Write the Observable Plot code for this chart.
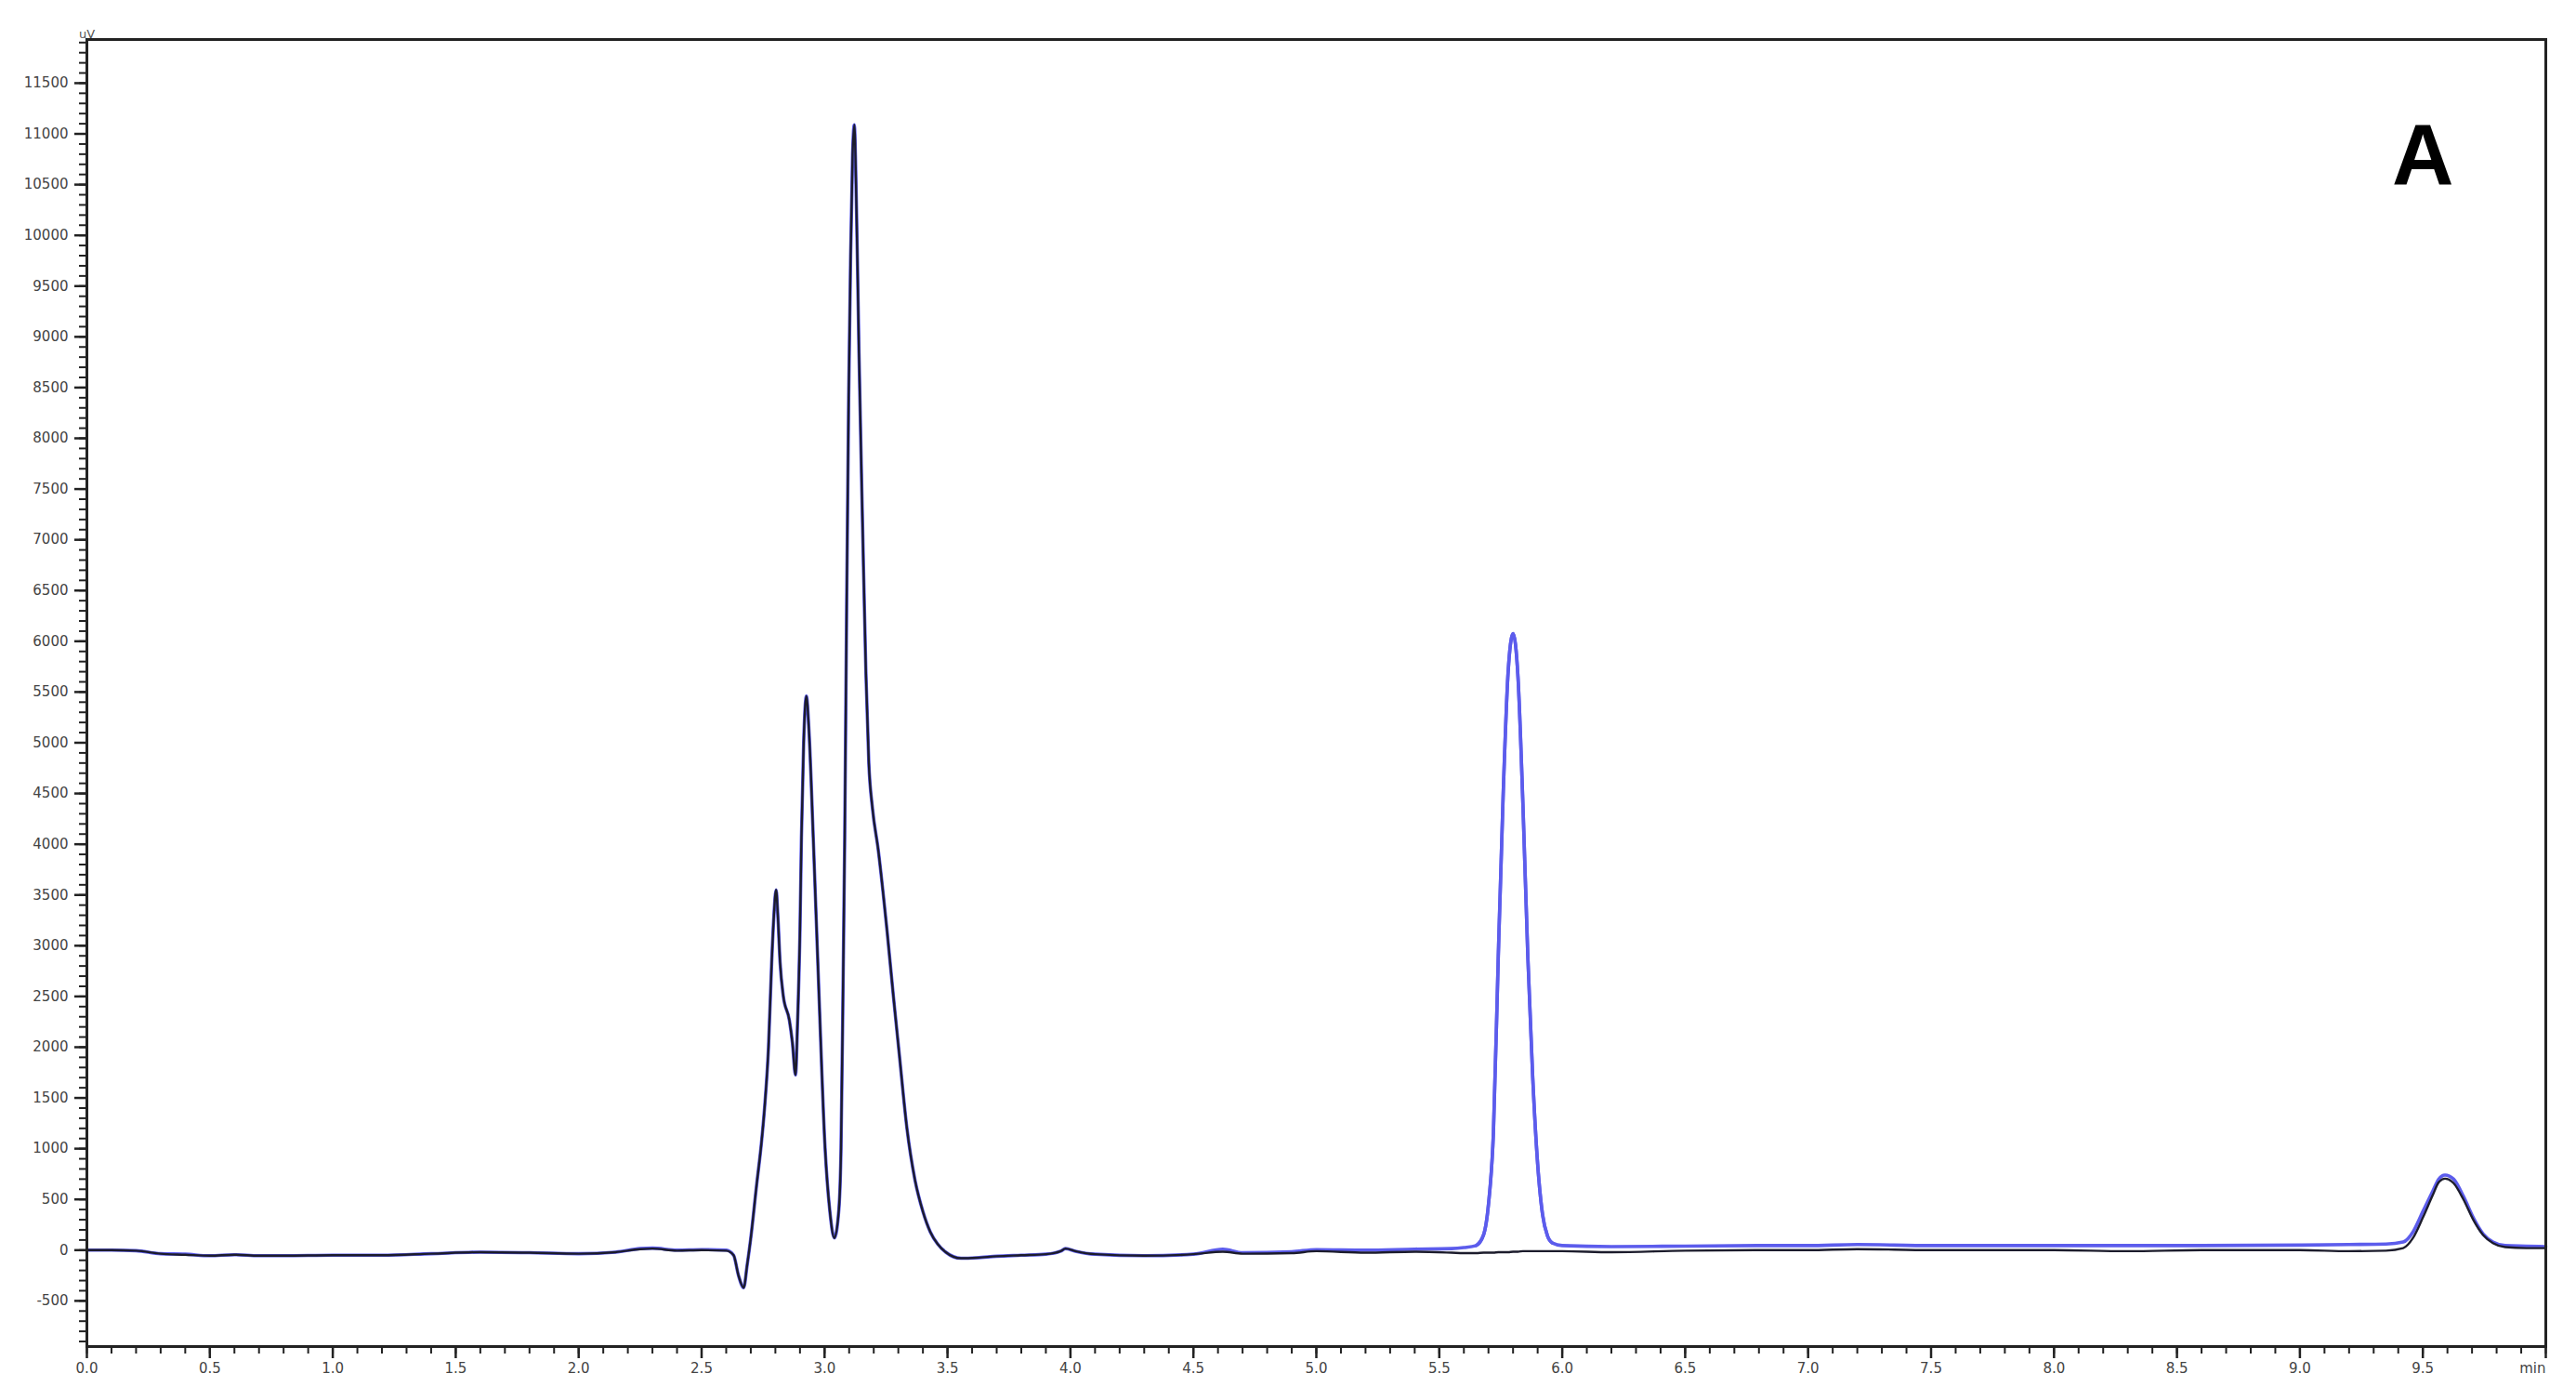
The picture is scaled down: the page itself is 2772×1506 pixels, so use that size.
<!DOCTYPE html>
<html>
<head>
<meta charset="utf-8">
<script src="https://cdn.jsdelivr.net/npm/d3@7"></script>
<script src="https://cdn.jsdelivr.net/npm/@observablehq/plot@0.6"></script>
<style>
  html, body { margin: 0; padding: 0; background: #fff; }
  #chart svg { display: block; }
</style>
</head>
<body>
<div id="chart"></div>
<script>
// Retention time (min)
const timeMin = [
  0.00, 0.10, 0.20, 0.30, 0.40, 0.50, 0.60, 0.70, 0.80, 1.00,
  1.20, 1.40, 1.60, 1.80, 2.00, 2.15, 2.25, 2.30, 2.40, 2.50,
  2.60, 2.63, 2.65, 2.671, 2.685, 2.699, 2.724, 2.743, 2.756, 2.772,
  2.785, 2.794, 2.803, 2.81, 2.819, 2.832, 2.857, 2.869, 2.882, 2.89,
  2.90, 2.906, 2.915, 2.926, 2.937, 2.954, 2.977, 3.002, 3.021, 3.04,
  3.058, 3.067, 3.075, 3.082, 3.09, 3.098, 3.106, 3.114, 3.121, 3.128,
  3.134, 3.14, 3.155, 3.168, 3.18, 3.195, 3.218, 3.254, 3.28, 3.304, 3.335,
  3.367, 3.40, 3.43, 3.46, 3.493, 3.555, 3.62, 3.70, 3.80, 3.90,
  3.96, 3.98, 4.02, 4.10, 4.30, 4.50, 4.62, 4.70, 4.90, 5.00,
  5.20, 5.40, 5.55, 5.60, 5.65, 5.68, 5.70, 5.72, 5.74, 5.76,
  5.78, 5.80, 5.82, 5.84, 5.86, 5.88, 5.90, 5.92, 5.94, 5.96,
  6.00, 6.20, 6.50, 6.80, 7.00, 7.20, 7.50, 7.80, 8.00, 8.30,
  8.60, 9.00, 9.20, 9.35, 9.42, 9.46, 9.50, 9.54, 9.565, 9.59,
  9.625, 9.665, 9.705, 9.745, 9.785, 9.835, 9.92, 10.00
];
// Signal (uV), black trace
const uvBlack = [
  0, 0, -5, -35, -45, -55, -45, -55, -55, -50,
  -50, -35, -20, -25, -35, -20, 10, 15, -5, 0,
  -5, -50, -250, -370, -150, 100, 650, 1050, 1400, 2000,
  2840, 3300, 3550, 3300, 2840, 2507, 2264, 2050, 1726, 2230,
  3150, 4068, 5000, 5460, 5100, 4068, 2540, 1010, 395, 120,
  395, 1010, 2540, 4068, 6394, 8400, 9800, 10800, 11090, 10500,
  9700, 8843, 7100, 5700, 4800, 4350, 3950, 3150, 2500, 1928, 1200,
  700, 380, 180, 60, -20, -80, -75, -60, -50, -40,
  -10, 15, -10, -40, -55, -40, -15, -35, -30, -10,
  -25, -15, -25, -30, -30, -25, -25, -25, -20, -20,
  -20, -15, -15, -10, -10, -10, -10, -10, -10, -10,
  -10, -20, -5, 0, 0, 10, 0, 0, 0, -10,
  0, 0, -10, -5, 20, 120, 320, 540, 670, 705,
  660, 500, 300, 150, 70, 30, 20, 20
];
// Signal (uV), blue trace
const uvBlue = [
  0, 0, -5, -35, -40, -55, -45, -55, -55, -50,
  -50, -35, -20, -25, -35, -20, 15, 20, 0, 5,
  0, -50, -250, -370, -150, 100, 650, 1050, 1400, 2000,
  2840, 3300, 3550, 3300, 2840, 2507, 2264, 2050, 1726, 2230,
  3150, 4068, 5000, 5460, 5100, 4068, 2540, 1010, 395, 120,
  395, 1010, 2540, 4068, 6394, 8400, 9800, 10800, 11090, 10500,
  9700, 8843, 7100, 5700, 4800, 4350, 3950, 3150, 2500, 1928, 1200,
  700, 380, 180, 60, -20, -80, -75, -60, -50, -40,
  -10, 15, -10, -40, -55, -40, 10, -25, -15, 5,
  0, 10, 15, 25, 45, 150, 450, 1150, 2900, 4500,
  5700, 6075, 5650, 4400, 2900, 1700, 850, 350, 140, 70,
  45, 35, 40, 45, 45, 55, 45, 45, 45, 45,
  45, 50, 55, 60, 80, 180, 380, 580, 700, 740,
  700, 530, 320, 160, 80, 45, 40, 35
];

const xMajorTicks = [0, 0.5, 1, 1.5, 2, 2.5, 3, 3.5, 4, 4.5, 5, 5.5, 6, 6.5, 7, 7.5, 8, 8.5, 9, 9.5, 10];
const yMajorTicks = [-500, 0, 500, 1000, 1500, 2000, 2500, 3000, 3500, 4000, 4500, 5000, 5500, 6000,
  6500, 7000, 7500, 8000, 8500, 9000, 9500, 10000, 10500, 11000, 11500];
const yUnitLabel = "uV";
const xUnitLabel = "min";
const panelLabel = "A";

const xMinorTicks = d3.range(0, 101).map(i => i / 10);
const yMinorTicks = d3.range(-900, 11901, 100);

const rows = timeMin.map((t, i) => ({ t, black: uvBlack[i], blue: uvBlue[i] }));

const tickFont = "'DejaVu Sans', Verdana, sans-serif";

const chart = Plot.plot({
  width: 2772,
  height: 1506,
  marginLeft: 93,
  marginRight: 33,
  marginTop: 42,
  marginBottom: 58,
  style: { fontFamily: tickFont, fontSize: "15px", background: "#fff" },
  x: { domain: [0, 10] },
  y: { domain: [-950, 11930] },
  marks: [
    Plot.line(rows, { x: "t", y: "blue", stroke: "#5c5cec", strokeWidth: 3.6, curve: "monotone-x" }),
    Plot.line(rows, { x: "t", y: "black", stroke: "#1c1c2c", strokeWidth: 2.4, curve: "monotone-x" }),
    Plot.line(rows.filter(d => d.t > 5.6 && d.t < 6.0), { x: "t", y: "blue", stroke: "#5c5cec", strokeWidth: 3.6, curve: "monotone-x" }),
    Plot.axisY({ ticks: yMinorTicks, tickSize: 8, tickFormat: () => "", stroke: "#222", strokeWidth: 2, label: null }),
    Plot.axisY({ ticks: yMajorTicks, tickSize: 13, tickPadding: 7, tickFormat: d => String(d), fontSize: 15, fill: "#444", stroke: "#222", strokeWidth: 2.5, label: null }),
    Plot.axisX({ ticks: xMinorTicks, tickSize: 8, tickFormat: () => "", stroke: "#222", strokeWidth: 2, label: null }),
    Plot.axisX({ ticks: xMajorTicks, tickSize: 13, tickPadding: 5, tickFormat: d => d === 10 ? "" : d3.format(".1f")(d), fontSize: 15, fill: "#444", stroke: "#222", strokeWidth: 2.5, label: null }),
    Plot.frame({ stroke: "#222", strokeWidth: 3 }),
    Plot.text([yUnitLabel], { text: d => d, frameAnchor: "top-left", dy: -11, textAnchor: "middle", fontSize: 13, fill: "#555" }),
    Plot.text([xUnitLabel], { text: d => d, frameAnchor: "bottom-right", dy: 18, lineAnchor: "top", textAnchor: "end", fontSize: 15, fill: "#444" }),
    Plot.text([panelLabel], { text: d => d, frameAnchor: "top-right", dx: -99, dy: 90, lineAnchor: "top", textAnchor: "end", fontSize: 92, fontWeight: "bold", fill: "#000", fontFamily: "'Liberation Sans', Arial, sans-serif" })
  ]
});

document.getElementById("chart").appendChild(chart);
</script>
</body>
</html>
